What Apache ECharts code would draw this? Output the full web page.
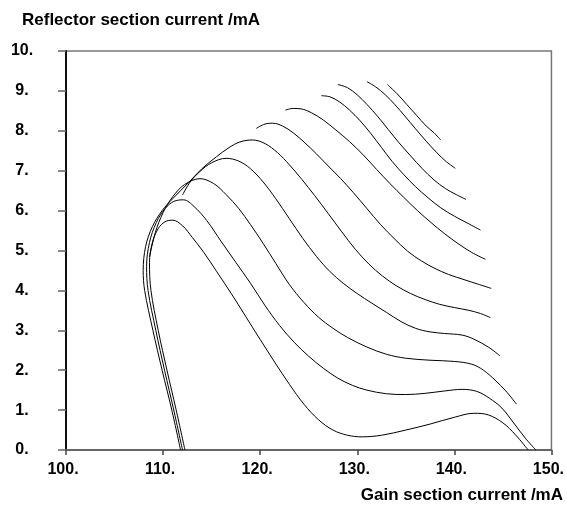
<!DOCTYPE html>
<html>
<head>
<meta charset="utf-8">
<script src="https://cdn.jsdelivr.net/npm/echarts@6/dist/echarts.min.js"></script>
<style>
  html, body { margin: 0; padding: 0; background: #fff; }
  #chart { width: 567px; height: 508px; }
</style>
</head>
<body>
<div id="chart"></div>
<script>
// Axis ranges and tick labels
const xTicks = [100, 110, 120, 130, 140, 150];
const yTicks = [0, 1, 2, 3, 4, 5, 6, 7, 8, 9, 10];
const xTitle = 'Gain section current /mA';
const yTitle = 'Reflector section current /mA';

// Mode-boundary curves, [gain current, reflector current] in mA
const curve1 = [[112.25,0],[111.35,1.0],[110.4,2.0],[109.5,3.0],[108.75,4.0],[108.6,4.7],[108.9,5.2],[109.5,5.55],[110.2,5.72],[111.0,5.76],[112,5.62],[113,5.33],[114.2,4.95],[115.5,4.48],[117,3.93],[118.5,3.35],[120,2.77],[121.5,2.2],[123,1.65],[124.5,1.15],[126,0.76],[127.5,0.5],[129,0.37],[130.5,0.33],[132.5,0.37],[135,0.5],[137.5,0.65],[140,0.82],[142,0.92],[143.5,0.88],[145,0.68],[146.3,0.38],[147.6,0]];
const curve2 = [[112.0,0],[111.1,1.0],[110.15,2.0],[109.25,3.0],[108.45,4.0],[108.3,4.6],[108.6,5.2],[109.3,5.7],[110.2,6.05],[111.1,6.23],[112.1,6.27],[113.2,6.1],[114.5,5.75],[116,5.22],[117.5,4.7],[119,4.18],[120.5,3.62],[122,3.12],[123.5,2.7],[125,2.35],[126.5,2.05],[128,1.8],[129.5,1.62],[131,1.5],[133,1.41],[135,1.39],[137,1.42],[139,1.48],[140.8,1.52],[142.3,1.47],[143.6,1.3],[144.9,1.05],[146.2,0.65],[147.3,0.3],[148.4,0]];
const curve3 = [[108.6,4.84],[109.2,5.45],[110,5.95],[111,6.35],[112.2,6.65],[113.8,6.8],[115.2,6.68],[116.5,6.4],[117.8,6.05],[119,5.65],[120.3,5.18],[121.6,4.68],[123,4.15],[124.5,3.7],[126,3.33],[127.5,3.05],[129,2.82],[131,2.58],[133,2.4],[135,2.3],[137.5,2.25],[140,2.22],[141.8,2.15],[143,2.0],[144.2,1.75],[145.3,1.48],[146.4,1.15]];
const curve4 = [[112.0,6.39],[112.8,6.72],[113.8,6.98],[115,7.2],[116.5,7.31],[117.8,7.24],[119,7.05],[120.3,6.72],[121.6,6.3],[123,5.8],[124.4,5.3],[125.8,4.85],[127.2,4.47],[128.6,4.17],[130,3.92],[131.5,3.68],[133,3.45],[134.5,3.22],[136,3.05],[137.5,2.96],[139,2.92],[140.8,2.88],[142,2.78],[143.5,2.58],[144.7,2.36]];
const curve5 = [[111.8,0],[110.9,1.0],[109.9,2.0],[108.95,3.0],[108.1,4.0],[107.95,4.5],[108.2,5.1],[108.9,5.6],[109.9,6.0],[111,6.3],[112.7,6.72],[114,7.05],[115.5,7.35],[116.8,7.58],[117.9,7.72],[119.2,7.77],[120.5,7.68],[121.8,7.45],[123,7.15],[124.3,6.78],[125.6,6.38],[127,5.93],[128.4,5.47],[129.8,5.03],[131.2,4.66],[132.6,4.36],[134,4.12],[135.5,3.92],[137,3.77],[138.5,3.65],[140,3.57],[141.5,3.5],[142.7,3.42],[143.7,3.32]];
const curve6 = [[119.6,8.06],[120.5,8.17],[121.3,8.19],[122.3,8.12],[123.4,7.95],[124.6,7.7],[125.8,7.42],[127,7.12],[128.3,6.8],[129.6,6.45],[131,6.05],[132.4,5.65],[133.8,5.3],[135.2,4.98],[136.6,4.74],[138,4.55],[139.4,4.4],[141,4.27],[142.4,4.16],[143.8,4.05]];
const curve7 = [[122.6,8.52],[123.4,8.56],[124.2,8.55],[125.3,8.45],[126.5,8.27],[127.8,8.02],[129.2,7.73],[130.6,7.4],[132,7.03],[133.4,6.67],[134.8,6.33],[136.2,6.0],[137.6,5.7],[139,5.42],[140.4,5.17],[141.8,4.95],[143.2,4.78]];
const curve8 = [[126.3,8.88],[127.2,8.85],[128.2,8.72],[129.2,8.52],[130.3,8.25],[131.4,7.93],[132.5,7.58],[133.6,7.23],[134.8,6.9],[136,6.6],[137.3,6.32],[138.6,6.07],[140,5.86],[141.4,5.68],[142.7,5.51]];
const curve9 = [[128,9.16],[129,9.08],[130,8.9],[131,8.66],[132.1,8.36],[133.2,8.03],[134.3,7.7],[135.5,7.37],[136.7,7.05],[137.9,6.77],[139.1,6.55],[140.2,6.4],[141.2,6.28]];
const curve10 = [[131,9.23],[131.9,9.1],[132.9,8.9],[133.9,8.65],[134.9,8.37],[136,8.05],[137.1,7.74],[138.2,7.45],[139.2,7.22],[140.1,7.06]];
const curve11 = [[133.1,9.16],[134.1,8.93],[135.1,8.66],[136.1,8.39],[137.1,8.12],[137.9,7.95],[138.6,7.77]];

const curves = [curve1, curve2, curve3, curve4, curve5, curve6, curve7, curve8, curve9, curve10, curve11];

const FONT = '"Liberation Sans", Arial, sans-serif';
const chart = echarts.init(document.getElementById('chart'), null, { renderer: 'canvas' });

chart.setOption({
  animation: false,
  backgroundColor: '#fff',
  title: [
    { text: yTitle, left: 22, top: 12, padding: 0,
      textStyle: { fontFamily: FONT, fontWeight: 'bold', fontSize: 17, color: '#000' } },
    { text: xTitle, right: 4, top: 487, padding: 0,
      textStyle: { fontFamily: FONT, fontWeight: 'bold', fontSize: 17, color: '#000' } }
  ],
  grid: {
    left: 66, right: 14, top: 51, bottom: 58,
    show: true, borderColor: '#777', borderWidth: 1.5, backgroundColor: 'transparent'
  },
  xAxis: {
    type: 'value', min: xTicks[0], max: xTicks[xTicks.length - 1], interval: 10,
    splitLine: { show: false },
    axisLine: { show: true, lineStyle: { color: '#666', width: 2 } },
    axisTick: { show: true, inside: false, length: 5, lineStyle: { color: '#444', width: 1.5 } },
    axisLabel: {
      margin: 12, color: '#000', fontFamily: FONT, fontWeight: 'bold', fontSize: 16,
      padding: [0, 6, 0, 0],
      formatter: v => v + '.'
    }
  },
  yAxis: {
    type: 'value', min: yTicks[0], max: yTicks[yTicks.length - 1], interval: 1,
    splitLine: { show: false },
    axisLine: { show: true, lineStyle: { color: '#111', width: 2 } },
    axisTick: { show: true, inside: false, length: 8, lineStyle: { color: '#666', width: 1.5 } },
    axisLabel: {
      margin: 44, align: 'center', color: '#000', fontFamily: FONT, fontWeight: 'bold', fontSize: 16,
      padding: [0, 0, 6, 0],
      formatter: v => v + '.'
    }
  },
  series: curves.map(c => ({
    type: 'line',
    data: c,
    smooth: 0.35,
    showSymbol: false,
    silent: true,
    clip: true,
    lineStyle: { color: '#000', width: 1 }
  }))
});
</script>
</body>
</html>
